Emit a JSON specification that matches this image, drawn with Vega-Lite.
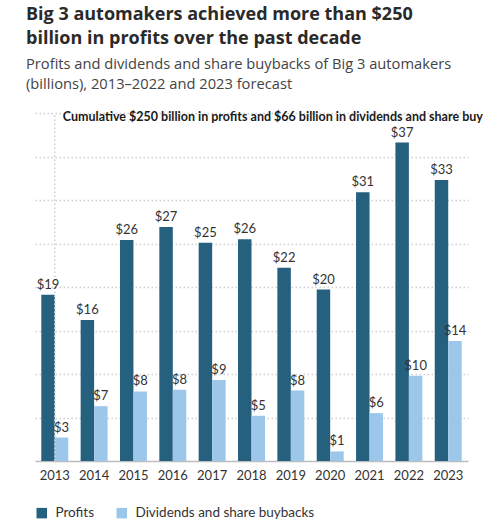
{
  "$schema": "https://vega.github.io/schema/vega-lite/v6.json",
  "autosize": {"type": "none"},
  "width": 433,
  "height": 348,
  "padding": {"left": 35, "top": 113, "right": 32, "bottom": 67},
  "background": "white",
  "title": {
    "text": ["Big 3 automakers achieved more than $250", "billion in profits over the past decade"],
    "subtitle": ["Profits and dividends and share buybacks of Big 3 automakers", "(billions), 2013–2022 and 2023 forecast"],
    "anchor": "start",
    "frame": "group",
    "dx": -9,
    "offset": 19,
    "font": "Open Sans",
    "fontSize": 18,
    "fontWeight": "bold",
    "lineHeight": 24,
    "color": "#2a2a2a",
    "subtitleFont": "Open Sans",
    "subtitleFontSize": 14.7,
    "subtitleLineHeight": 20,
    "subtitleColor": "#444444",
    "subtitlePadding": 9
  },
  "data": {
    "values": [
      {"year": "2013", "series": "Profits", "value": 19.1, "label": "$19"},
      {"year": "2014", "series": "Profits", "value": 16.2, "label": "$16"},
      {"year": "2015", "series": "Profits", "value": 25.4, "label": "$26"},
      {"year": "2016", "series": "Profits", "value": 26.9, "label": "$27"},
      {"year": "2017", "series": "Profits", "value": 25.1, "label": "$25"},
      {"year": "2018", "series": "Profits", "value": 25.5, "label": "$26"},
      {"year": "2019", "series": "Profits", "value": 22.2, "label": "$22"},
      {"year": "2020", "series": "Profits", "value": 19.7, "label": "$20"},
      {"year": "2021", "series": "Profits", "value": 30.9, "label": "$31"},
      {"year": "2022", "series": "Profits", "value": 36.6, "label": "$37"},
      {"year": "2023", "series": "Profits", "value": 32.3, "label": "$33"},
      {"year": "2013", "series": "Dividends and share buybacks", "value": 2.7, "label": "$3"},
      {"year": "2014", "series": "Dividends and share buybacks", "value": 6.3, "label": "$7"},
      {"year": "2015", "series": "Dividends and share buybacks", "value": 8.0, "label": "$8"},
      {"year": "2016", "series": "Dividends and share buybacks", "value": 8.2, "label": "$8"},
      {"year": "2017", "series": "Dividends and share buybacks", "value": 9.3, "label": "$9"},
      {"year": "2018", "series": "Dividends and share buybacks", "value": 5.2, "label": "$5"},
      {"year": "2019", "series": "Dividends and share buybacks", "value": 8.1, "label": "$8"},
      {"year": "2020", "series": "Dividends and share buybacks", "value": 1.1, "label": "$1"},
      {"year": "2021", "series": "Dividends and share buybacks", "value": 5.5, "label": "$6"},
      {"year": "2022", "series": "Dividends and share buybacks", "value": 9.8, "label": "$10"},
      {"year": "2023", "series": "Dividends and share buybacks", "value": 13.8, "label": "$14"}
    ]
  },
  "encoding": {
    "x": {
      "field": "year",
      "type": "nominal",
      "scale": {"paddingInner": 0.315, "paddingOuter": 0.16},
      "axis": {
        "title": null,
        "labelAngle": 0,
        "ticks": false,
        "domainColor": "#bdbdbd",
        "domainWidth": 1.5,
        "labelFont": "Lato",
        "labelFontSize": 13,
        "labelColor": "#333333",
        "labelPadding": 8
      }
    }
  },
  "layer": [
    {
      "mark": {"type": "bar"},
      "encoding": {
        "y": {
          "field": "value",
          "type": "quantitative",
          "scale": {"domain": [0, 40]},
          "axis": {
            "title": null,
            "labels": false,
            "ticks": false,
            "domain": false,
            "values": [5, 10, 15, 20, 25, 30, 35, 40],
            "gridColor": "#cfcfcf",
            "gridDash": [1.5, 2.5],
            "gridWidth": 1.5
          }
        },
        "xOffset": {"field": "series", "type": "nominal", "sort": ["Profits", "Dividends and share buybacks"], "scale": {"paddingInner": 0, "paddingOuter": 0}},
        "color": {
          "field": "series",
          "type": "nominal",
          "sort": ["Profits", "Dividends and share buybacks"],
          "scale": {"domain": ["Profits", "Dividends and share buybacks"], "range": ["#25607f", "#9cc7eb"]},
          "legend": {
            "title": null,
            "orient": "bottom",
            "direction": "horizontal",
            "symbolType": "square",
            "symbolSize": 110,
            "symbolStrokeWidth": 0,
            "labelFont": "Lato",
            "labelFontSize": 13.5,
            "labelColor": "#333333",
            "labelLimit": 300,
            "columnPadding": 20,
            "labelOffset": 7,
            "offset": 24
          }
        }
      }
    },
    {
      "data": {"values": [{"year": "2013", "note": "Cumulative $250 billion in profits and $66 billion in dividends and share buy"}]},
      "mark": {"type": "rule", "color": "#cfcfcf", "strokeDash": [1.5, 2.5], "strokeWidth": 1.5},
      "encoding": {
        "y": {"datum": 0},
        "y2": {"datum": 40}
      }
    },
    {
      "mark": {"type": "text", "baseline": "bottom", "dy": -3, "font": "Lato", "fontSize": 13, "color": "#333333"},
      "encoding": {
        "y": {"field": "value", "type": "quantitative"},
        "xOffset": {"field": "series", "type": "nominal", "sort": ["Profits", "Dividends and share buybacks"]},
        "text": {"field": "label"}
      }
    },
    {
      "data": {"values": [{"year": "2013", "note": "Cumulative $250 billion in profits and $66 billion in dividends and share buy"}]},
      "mark": {"type": "text", "align": "left", "baseline": "top", "dx": 8, "dy": -2, "font": "Lato", "fontSize": 12.5, "fontWeight": "bold", "color": "#1a1a1a"},
      "encoding": {
        "y": {"datum": 40},
        "text": {"field": "note"}
      }
    }
  ],
  "config": {
    "view": {"stroke": null}
  }
}
